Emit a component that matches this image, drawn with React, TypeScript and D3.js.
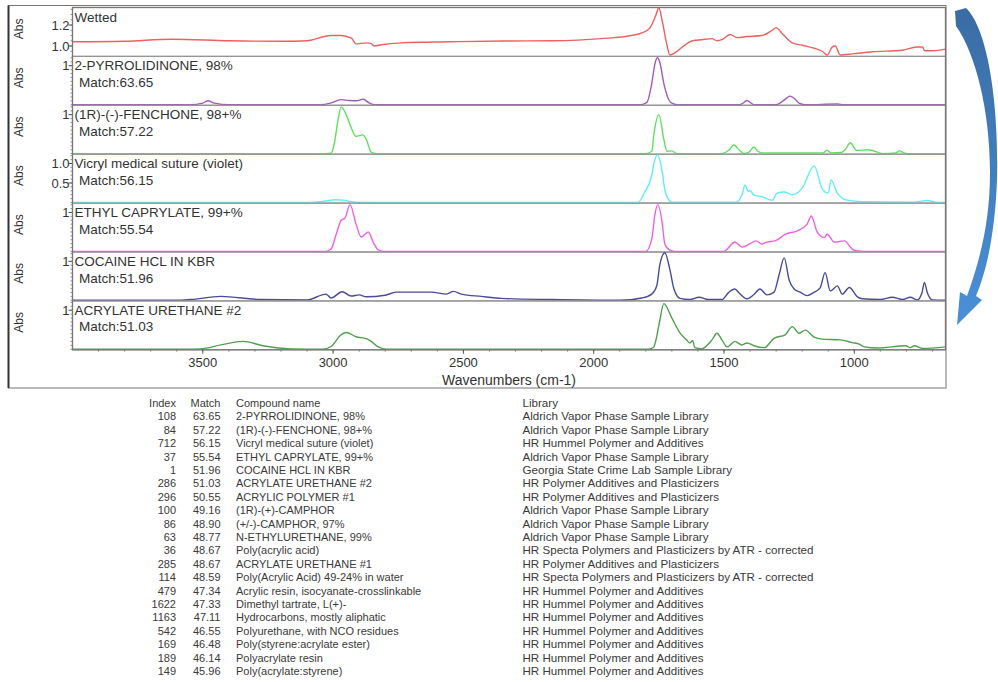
import React from 'react';
import * as d3 from 'd3';

// spectra: [wavenumber, absorbance]
const wetted = [
  [4000, 1.04], [3800, 1.045], [3620, 1.065], [3400, 1.05], [3200, 1.045], [3100, 1.05], [3010, 1.1], [2970, 1.1],
  [2930, 1.075], [2912, 1.02], [2873, 1.03], [2855, 1.025], [2842, 1.0], [2815, 1.012], [2740, 1.03], [2550, 1.04],
  [2350, 1.048], [2160, 1.05], [1970, 1.07], [1855, 1.1], [1815, 1.125], [1785, 1.17], [1762, 1.29], [1750, 1.365],
  [1738, 1.25], [1719, 1.01], [1708, 0.914], [1680, 0.95], [1660, 0.99], [1620, 1.05], [1585, 1.06], [1546, 1.07],
  [1527, 1.05], [1508, 1.06], [1477, 1.11], [1450, 1.08], [1412, 1.09], [1355, 1.1], [1315, 1.15], [1300, 1.175],
  [1277, 1.12], [1238, 1.03], [1200, 1.007], [1142, 0.97], [1123, 0.95], [1104, 0.915], [1085, 0.99], [1073, 1.0],
  [1054, 0.915], [1008, 0.925], [930, 0.945], [815, 0.96], [760, 0.99], [738, 0.99], [730, 0.955], [700, 0.955], [650, 0.97],
];
const pyrrolidinone = [
  [4000, 0], [3550, 0], [3500, 0.04], [3480, 0.1], [3455, 0.04], [3400, 0], [3050, 0], [3010, 0.04], [2970, 0.13],
  [2940, 0.11], [2912, 0.1], [2885, 0.14], [2860, 0.04], [2840, 0], [1820, 0], [1796, 0.06], [1777, 0.55], [1765, 1.05],
  [1755, 1.21], [1745, 1.05], [1731, 0.55], [1711, 0.12], [1700, 0.04], [1680, 0], [1440, 0], [1425, 0.05], [1412, 0.11],
  [1398, 0.05], [1385, 0], [1300, 0], [1277, 0.08], [1260, 0.17], [1246, 0.22], [1230, 0.16], [1212, 0.04], [1190, 0],
  [1065, 0.02], [1040, 0], [650, 0],
];
const fenchone = [
  [4000, 0], [3030, 0], [3008, 0.01], [2996, 0.24], [2981, 0.87], [2969, 1.2], [2950, 1.0], [2931, 0.67], [2912, 0.44],
  [2886, 0.48], [2873, 0.37], [2854, 0.04], [2835, 0], [1800, 0], [1777, 0.06], [1769, 0.49], [1750, 1.0], [1731, 0.37],
  [1719, 0.06], [1700, 0.07], [1681, 0], [1508, 0], [1480, 0.1], [1462, 0.22], [1440, 0.08], [1423, 0], [1404, 0.04],
  [1385, 0.17], [1370, 0.06], [1354, 0.02], [1120, 0.02], [1104, 0.09], [1090, 0.02], [1050, 0.03], [1035, 0.1],
  [1015, 0.28], [995, 0.1], [988, 0.08], [950, 0.1], [931, 0.08], [892, 0], [840, 0.02], [827, 0.07], [810, 0.02],
  [796, 0], [650, 0],
];
const vicryl = [
  [4000, 0], [3080, 0], [3040, 0.03], [2990, 0.07], [2960, 0.06], [2930, 0.02], [2900, 0], [1830, 0], [1804, 0.27],
  [1777, 0.7], [1769, 1.0], [1755, 1.22], [1738, 0.83], [1727, 0.32], [1715, 0.1], [1700, 0.01], [1450, 0.01],
  [1431, 0.2], [1419, 0.45], [1408, 0.29], [1400, 0.3], [1385, 0.19], [1354, 0.15], [1315, 0.06], [1296, 0.24],
  [1269, 0.27], [1238, 0.2], [1200, 0.37], [1154, 0.94], [1123, 0.35], [1100, 0.24], [1089, 0.58], [1065, 0.24],
  [1027, 0.06], [969, 0.02], [777, 0.01], [719, 0.05], [681, 0], [650, 0],
];
const ethylCaprylate = [
  [4000, 0], [3030, 0], [3008, 0.06], [2988, 0.44], [2969, 0.8], [2955, 0.85], [2935, 1.2], [2912, 0.7], [2892, 0.37],
  [2865, 0.5], [2846, 0.24], [2827, 0.04], [2800, 0], [1800, 0], [1777, 0.32], [1765, 0.95], [1754, 1.2], [1738, 0.77],
  [1727, 0.19], [1708, 0.03], [1690, 0], [1500, 0], [1488, 0.06], [1458, 0.24], [1431, 0.11], [1400, 0.2], [1377, 0.27],
  [1354, 0.19], [1335, 0.24], [1304, 0.27], [1265, 0.44], [1219, 0.53], [1181, 0.7], [1165, 0.91], [1142, 0.49],
  [1115, 0.36], [1104, 0.44], [1077, 0.24], [1038, 0.27], [1008, 0.06], [988, 0.01], [960, 0], [650, 0],
];
const cocaine = [
  [4000, 0], [3600, 0], [3546, 0.02], [3431, 0.1], [3277, 0.02], [3100, 0.01], [3027, 0.16], [3008, 0.06], [2965, 0.22],
  [2931, 0.11], [2900, 0.14], [2873, 0.09], [2800, 0.13], [2758, 0.21], [2692, 0.21], [2623, 0.21], [2565, 0.16],
  [2538, 0.23], [2508, 0.16], [2431, 0.1], [2354, 0.05], [2162, 0.02], [1900, 0], [1815, 0.06], [1777, 0.16],
  [1758, 0.37], [1746, 0.92], [1727, 1.22], [1708, 0.8], [1692, 0.29], [1669, 0.05], [1630, 0.02], [1596, 0.08],
  [1560, 0.02], [1508, 0.02], [1481, 0.21], [1458, 0.29], [1442, 0.19], [1412, 0.04], [1385, 0.15], [1362, 0.29],
  [1335, 0.14], [1308, 0.21], [1288, 0.67], [1269, 1.09], [1250, 0.52], [1231, 0.29], [1208, 0.21], [1181, 0.12],
  [1154, 0.21], [1131, 0.32], [1112, 0.71], [1092, 0.24], [1065, 0.37], [1046, 0.16], [1019, 0.33], [988, 0.09],
  [969, 0.04], [900, 0.02], [854, 0.08], [815, 0.02], [785, 0.08], [758, 0.01], [740, 0.2], [731, 0.46], [720, 0.2],
  [700, 0.01], [650, 0],
];
const acrylateUrethane = [
  [4000, 0], [3560, 0], [3508, 0.01], [3431, 0.11], [3346, 0.2], [3269, 0.09], [3162, 0.01], [3040, 0], [3008, 0.07],
  [2969, 0.37], [2950, 0.43], [2912, 0.32], [2873, 0.27], [2854, 0.2], [2827, 0.06], [2796, 0], [1790, 0], [1770, 0.05],
  [1758, 0.33], [1746, 0.75], [1731, 1.17], [1700, 0.8], [1669, 0.42], [1645, 0.25], [1631, 0.16], [1620, 0.22],
  [1612, 0.04], [1585, 0.01], [1546, 0.24], [1527, 0.41], [1508, 0.24], [1488, 0.06], [1458, 0.2], [1431, 0.11],
  [1412, 0.16], [1385, 0.09], [1346, 0.04], [1308, 0.28], [1265, 0.37], [1238, 0.58], [1212, 0.41], [1188, 0.49],
  [1154, 0.31], [1123, 0.26], [1054, 0.24], [1008, 0.17], [981, 0.13], [962, 0.06], [912, 0.03], [804, 0.09],
  [785, 0.04], [769, 0.09], [738, 0.02], [650, 0.06],
];

const spectra = [wetted, pyrrolidinone, fenchone, vicryl, ethylCaprylate, cocaine, acrylateUrethane];
const panelNames = ['Wetted', '2-PYRROLIDINONE, 98%', '(1R)-(-)-FENCHONE, 98+%', 'Vicryl medical suture (violet)',
  'ETHYL CAPRYLATE, 99+%', 'COCAINE HCL IN KBR', 'ACRYLATE URETHANE #2'];
const panelMatches = [null, '63.65', '57.22', '56.15', '55.54', '51.96', '51.03'];
const panelColors = ['#ef6060', '#a35bb5', '#5fe05f', '#5eeef5', '#f060e0', '#4b4b9b', '#4fa04f'];
const panelDomains = [[0.901, 1.367], [-0.015, 1.24], [-0.015, 1.24], [-0.015, 1.238], [-0.015, 1.24], [-0.015, 1.24], [-0.015, 1.24]];
const panelTicks = [[1.0, 1.2], [1], [1], [0.5, 1.0], [1], [1], [1]];
const xTicks = [3500, 3000, 2500, 2000, 1500, 1000];

const tableIndex = [108, 84, 712, 37, 1, 286, 296, 100, 86, 63, 36, 285, 114, 479, 1622, 1163, 542, 169, 189, 149];
const tableMatch = ['63.65', '57.22', '56.15', '55.54', '51.96', '51.03', '50.55', '49.16', '48.90', '48.77', '48.67',
  '48.67', '48.59', '47.34', '47.33', '47.11', '46.55', '46.48', '46.14', '45.96'];
const tableName = ['2-PYRROLIDINONE, 98%', '(1R)-(-)-FENCHONE, 98+%', 'Vicryl medical suture (violet)',
  'ETHYL CAPRYLATE, 99+%', 'COCAINE HCL IN KBR', 'ACRYLATE URETHANE #2', 'ACRYLIC POLYMER #1', '(1R)-(+)-CAMPHOR',
  '(+/-)-CAMPHOR, 97%', 'N-ETHYLURETHANE, 99%', 'Poly(acrylic acid)', 'ACRYLATE URETHANE #1',
  'Poly(Acrylic Acid) 49-24% in water', 'Acrylic resin, isocyanate-crosslinkable', 'Dimethyl tartrate, L(+)-',
  'Hydrocarbons, mostly aliphatic', 'Polyurethane, with NCO residues', 'Poly(styrene:acrylate ester)',
  'Polyacrylate resin', 'Poly(acrylate:styrene)'];
const tableLibrary = ['Aldrich Vapor Phase Sample Library', 'Aldrich Vapor Phase Sample Library',
  'HR Hummel Polymer and Additives', 'Aldrich Vapor Phase Sample Library', 'Georgia State Crime Lab Sample Library',
  'HR Polymer Additives and Plasticizers', 'HR Polymer Additives and Plasticizers', 'Aldrich Vapor Phase Sample Library',
  'Aldrich Vapor Phase Sample Library', 'Aldrich Vapor Phase Sample Library',
  'HR Specta Polymers and Plasticizers by ATR - corrected', 'HR Polymer Additives and Plasticizers',
  'HR Specta Polymers and Plasticizers by ATR - corrected', 'HR Hummel Polymer and Additives',
  'HR Hummel Polymer and Additives', 'HR Hummel Polymer and Additives', 'HR Hummel Polymer and Additives',
  'HR Hummel Polymer and Additives', 'HR Hummel Polymer and Additives', 'HR Hummel Polymer and Additives'];

const W = 998;
const H = 682;
const left = 72.5;
const right = 945.5;
const top = 7.5;
const panelH = 48.9;
const font = 'Liberation Sans, Arial, sans-serif';
const textColor = '#333';

const App = () => {
  const x = d3.scaleLinear().domain([4000, 650]).range([left, right]);
  const bottom = top + panelH * spectra.length;
  const minorX = d3.range(700, 4000, 100);

  const panels = spectra.map((data, i) => {
    const y0 = top + i * panelH;
    const y = d3.scaleLinear().domain(panelDomains[i]).range([y0 + panelH, y0]);
    const line = d3.line().x(d => x(d[0])).y(d => y(d[1])).curve(d3.curveMonotoneX);
    const [lo, hi] = panelDomains[i];
    const step = i === 0 ? 0.05 : 0.1;
    const minor = d3.range(Math.ceil(lo / step) * step, hi, step).filter(v => v > lo + 0.005);
    return (
      <g key={i}>
        <clipPath id={'clip' + i}>
          <rect x={left} y={y0} width={right - left} height={panelH} />
        </clipPath>
        <rect x={left} y={y0} width={right - left} height={panelH} fill="none" stroke="#959595" strokeWidth={1.2} />
        <path d={line(data)} fill="none" stroke={panelColors[i]} strokeWidth={1.4} clipPath={`url(#clip${i})`} />
        {minor.map((v, k) => (
          <line key={'m' + k} x1={left - 2} x2={left} y1={y(v)} y2={y(v)} stroke="#777" strokeWidth={0.8} />
        ))}
        {panelTicks[i].map((v, k) => (
          <g key={'t' + k}>
            <line x1={left - 4} x2={left} y1={y(v)} y2={y(v)} stroke="#555" />
            <text x={left - 3} y={y(v) + 4.5} textAnchor="end" fontSize={13} fill={textColor}>
              {i === 0 || i === 3 ? d3.format('.1f')(v) : d3.format('d')(v)}
            </text>
          </g>
        ))}
        <text transform={`translate(23,${y0 + panelH / 2 - 3}) rotate(-90)`} textAnchor="middle" fontSize={12} fill={textColor}>Abs</text>
        <text x={left + 2} y={y0 + 14} fontSize={13.5} fill={textColor}>{panelNames[i]}</text>
        {panelMatches[i] && (
          <text x={left + 6.5} y={y0 + 30.5} fontSize={13.5} fill={textColor}>{'Match:' + panelMatches[i]}</text>
        )}
      </g>
    );
  });

  const rowH = 13.4;
  const headY = 407;

  return (
    <svg width={W} height={H} style={{ position: 'absolute', left: 0, top: 0, background: '#fff' }} fontFamily={font}>
      <defs>
        <linearGradient id="arrowGrad" x1="0" y1="0" x2="0" y2="1">
          <stop offset="0" stopColor="#3a6ca3" />
          <stop offset="1" stopColor="#4a90d8" />
        </linearGradient>
      </defs>
      <rect x={8.5} y={5.5} width={937.5} height={382.5} fill="none" stroke="#777" />
      <line x1={8.5} x2={8.5} y1={5.5} y2={388} stroke="#333" strokeWidth={2} />
      {panels}
      <rect x={left} y={top} width={right - left} height={bottom - top} fill="none" stroke="#777" strokeWidth={1.2} />
      {minorX.map(v => (
        <line key={v} x1={x(v)} x2={x(v)} y1={bottom} y2={bottom + 2} stroke="#777" strokeWidth={0.8} />
      ))}
      {xTicks.map(v => (
        <g key={'x' + v}>
          <line x1={x(v)} x2={x(v)} y1={bottom} y2={bottom + 4} stroke="#555" />
          <text x={x(v)} y={bottom + 17} textAnchor="middle" fontSize={13} fill={textColor}>{v}</text>
        </g>
      ))}
      <text x={(left + right) / 2} y={385} textAnchor="middle" fontSize={14} fill={textColor}>Wavenumbers (cm-1)</text>

      <path
        d="M955,11 L966,8 C989,30 999,110 997,180 C995,232 987,270 976,296 L982,300 L957,325 L960,292 L967,296 C980,260 990,222 990,172 C990,112 976,54 956,26 Z"
        fill="url(#arrowGrad)"
      />

      <g fontSize={11} fill="#3a3a3a">
        <text x={176} y={headY} textAnchor="end">Index</text>
        <text x={220.5} y={headY} textAnchor="end">Match</text>
        <text x={236} y={headY}>Compound name</text>
        <text x={522.5} y={headY} fontSize={11.6}>Library</text>
        {tableIndex.map((idx, i) => {
          const yy = headY + rowH * (i + 1);
          return (
            <g key={i}>
              <text x={176} y={yy} textAnchor="end">{idx}</text>
              <text x={220.5} y={yy} textAnchor="end">{tableMatch[i]}</text>
              <text x={236} y={yy}>{tableName[i]}</text>
              <text x={522.5} y={yy} fontSize={11.6}>{tableLibrary[i]}</text>
            </g>
          );
        })}
      </g>
    </svg>
  );
};

export default App;
